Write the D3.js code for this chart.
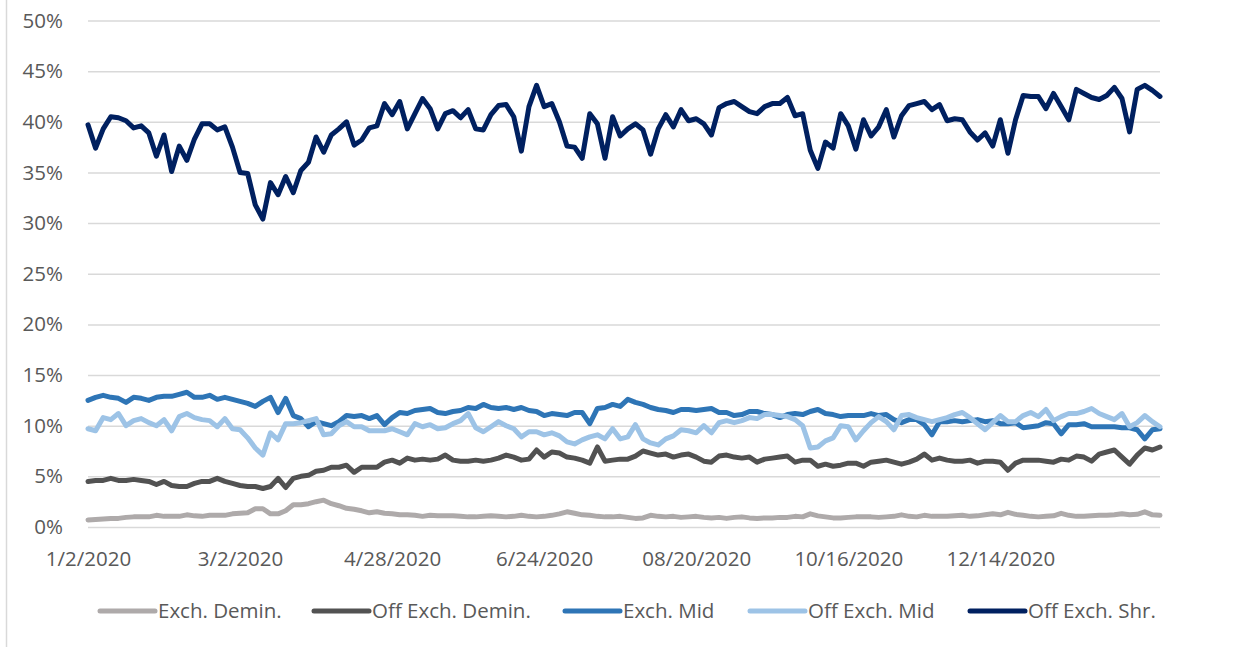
<!DOCTYPE html>
<html>
<head>
<meta charset="utf-8">
<script src="https://cdn.jsdelivr.net/npm/d3@7"></script>
<style>
  body { margin: 0; background: #fff; }
  svg { display: block; font-family: "Open Sans", sans-serif; }
</style>
</head>
<body>
<div id="chart"></div>
<script>
// x positions are trading-day indices; labels every 20 points
const tickIdx = [0, 20, 40, 60, 80, 100, 120];
const tickLabels = ["1/2/2020", "3/2/2020", "4/28/2020", "6/24/2020", "08/20/2020", "10/16/2020", "12/14/2020"];
const yTicks = [0, 5, 10, 15, 20, 25, 30, 35, 40, 45, 50];

const seriesNames = ["Exch. Demin.", "Off Exch. Demin.", "Exch. Mid", "Off Exch. Mid", "Off Exch. Shr."];
const seriesColors = ["#AEAAAA", "#525252", "#2E75B6", "#9DC3E6", "#002060"];

// values in percent
const exchDemin = [
  0.7, 0.75, 0.8, 0.85, 0.85, 0.95, 1.0, 1.0, 1.0, 1.15, 1.05, 1.05, 1.05, 1.2, 1.1, 1.05, 1.15, 1.15, 1.15, 1.3,
  1.35, 1.4, 1.8, 1.8, 1.3, 1.3, 1.6, 2.2, 2.2, 2.3, 2.5, 2.65, 2.3, 2.1, 1.85, 1.75, 1.6, 1.4, 1.5, 1.35,
  1.3, 1.2, 1.2, 1.15, 1.05, 1.15, 1.1, 1.1, 1.1, 1.05, 1.0, 1.0, 1.05, 1.1, 1.05, 1.0, 1.05, 1.15, 1.05, 1.0,
  1.05, 1.15, 1.3, 1.5, 1.35, 1.2, 1.15, 1.05, 1.0, 1.0, 1.05, 0.95, 0.85, 0.9, 1.15, 1.05, 1.0, 1.05, 0.95, 1.0,
  1.05, 0.95, 0.9, 0.95, 0.85, 0.95, 1.0, 0.9, 0.85, 0.9, 0.9, 0.95, 0.95, 1.05, 1.0, 1.3, 1.1, 1.0, 0.9, 0.9,
  0.95, 1.0, 1.0, 1.0, 0.95, 1.0, 1.05, 1.2, 1.05, 1.0, 1.15, 1.05, 1.05, 1.05, 1.1, 1.15, 1.05, 1.1, 1.2, 1.3,
  1.2, 1.45, 1.25, 1.15, 1.05, 1.0, 1.05, 1.1, 1.35, 1.15, 1.05, 1.05, 1.1, 1.15, 1.15, 1.2, 1.3, 1.2, 1.25, 1.5,
  1.2, 1.15
];
const offExchDemin = [
  4.5, 4.6, 4.6, 4.8, 4.6, 4.6, 4.7, 4.6, 4.5, 4.2, 4.5, 4.1, 4.0, 4.0, 4.3, 4.5, 4.5, 4.8, 4.5, 4.3,
  4.1, 4.0, 4.0, 3.8, 4.0, 4.8, 3.9, 4.8, 5.0, 5.1, 5.5, 5.6, 5.9, 5.9, 6.1, 5.4, 5.9, 5.9, 5.9, 6.4,
  6.6, 6.3, 6.8, 6.6, 6.7, 6.6, 6.7, 7.1, 6.6, 6.5, 6.5, 6.6, 6.5, 6.6, 6.8, 7.1, 6.9, 6.6, 6.7, 7.6,
  6.9, 7.4, 7.3, 6.9, 6.8, 6.6, 6.3, 7.9, 6.5, 6.6, 6.7, 6.7, 7.0, 7.5, 7.3, 7.1, 7.2, 6.9, 7.1, 7.2,
  6.9, 6.5, 6.4, 7.0, 7.1, 6.9, 6.8, 6.9, 6.4, 6.7, 6.8, 6.9, 7.0, 6.4, 6.6, 6.6, 6.0, 6.2, 6.0, 6.1,
  6.3, 6.3, 6.0, 6.4, 6.5, 6.6, 6.4, 6.2, 6.4, 6.7, 7.2, 6.6, 6.8, 6.6, 6.5, 6.5, 6.6, 6.3, 6.5, 6.5,
  6.4, 5.6, 6.3, 6.6, 6.6, 6.6, 6.5, 6.4, 6.7, 6.6, 7.0, 6.9, 6.5, 7.2, 7.4, 7.6, 6.9, 6.2, 7.1, 7.8,
  7.6, 7.9
];
const exchMid = [
  12.5, 12.8, 13.0, 12.8, 12.7, 12.3, 12.8, 12.7, 12.5, 12.8, 12.9, 12.9, 13.1, 13.3, 12.8, 12.8, 13.0, 12.6, 12.8, 12.6,
  12.4, 12.2, 11.9, 12.4, 12.8, 11.3, 12.7, 11.0, 10.7, 9.9, 10.4, 10.2, 10.0, 10.4, 11.0, 10.9, 11.0, 10.7, 11.0, 10.1,
  10.8, 11.3, 11.2, 11.5, 11.6, 11.7, 11.3, 11.2, 11.4, 11.5, 11.8, 11.7, 12.1, 11.8, 11.7, 11.8, 11.6, 11.8, 11.5, 11.4,
  11.0, 11.2, 11.1, 11.0, 11.3, 11.3, 10.2, 11.7, 11.8, 12.1, 11.9, 12.6, 12.3, 12.1, 11.8, 11.6, 11.5, 11.3, 11.6, 11.6,
  11.5, 11.6, 11.7, 11.3, 11.3, 11.0, 11.1, 11.4, 11.4, 11.2, 11.1, 10.8, 11.1, 11.2, 11.1, 11.4, 11.6, 11.2, 11.1, 10.9,
  11.0, 11.0, 11.0, 11.2, 11.0, 11.1, 10.6, 10.3, 10.6, 10.6, 10.1, 9.1, 10.4, 10.4, 10.5, 10.4, 10.5, 10.6, 10.4, 10.5,
  10.2, 10.2, 10.3, 9.8, 9.9, 10.0, 10.3, 10.2, 9.2, 10.1, 10.1, 10.2, 9.9, 9.9, 9.9, 9.9, 9.8, 9.8, 9.6, 8.7,
  9.6, 9.7
];
const offExchMid = [
  9.7, 9.5, 10.8, 10.6, 11.2, 10.0, 10.5, 10.7, 10.3, 10.0, 10.6, 9.5, 10.9, 11.2, 10.8, 10.6, 10.5, 9.9, 10.7, 9.7,
  9.6, 8.8, 7.8, 7.1, 9.3, 8.6, 10.2, 10.2, 10.3, 10.5, 10.7, 9.1, 9.2, 10.0, 10.4, 9.9, 9.9, 9.5, 9.5, 9.5,
  9.7, 9.4, 9.1, 10.2, 9.9, 10.1, 9.7, 9.8, 10.2, 10.5, 11.2, 9.8, 9.4, 9.9, 10.4, 10.0, 9.7, 8.9, 9.4, 9.4,
  9.1, 9.3, 9.0, 8.4, 8.2, 8.6, 8.9, 9.1, 8.7, 9.7, 8.7, 8.9, 10.1, 8.7, 8.3, 8.1, 8.7, 9.0, 9.6, 9.5,
  9.3, 10.0, 9.3, 10.3, 10.5, 10.3, 10.5, 10.8, 10.7, 11.1, 11.1, 11.0, 10.9, 10.6, 10.0, 7.8, 7.9, 8.5, 8.8, 10.0,
  9.9, 8.6, 9.5, 10.3, 10.9, 10.4, 9.6, 11.0, 11.1, 10.8, 10.6, 10.4, 10.6, 10.8, 11.1, 11.3, 10.8, 10.2, 9.6, 10.3,
  11.0, 10.4, 10.4, 11.0, 11.3, 10.9, 11.6, 10.5, 10.9, 11.2, 11.2, 11.4, 11.7, 11.2, 10.9, 10.6, 11.2, 9.9, 10.3, 11.0,
  10.4, 9.9
];
const offExchShr = [
  39.7, 37.4, 39.3, 40.5, 40.4, 40.1, 39.4, 39.6, 38.9, 36.6, 38.7, 35.1, 37.6, 36.2, 38.3, 39.8, 39.8, 39.2, 39.5, 37.5,
  35.0, 34.9, 31.8, 30.4, 34.0, 32.8, 34.6, 33.0, 35.2, 36.0, 38.5, 37.0, 38.7, 39.3, 40.0, 37.7, 38.2, 39.4, 39.6, 41.8,
  40.7, 42.0, 39.3, 40.8, 42.3, 41.3, 39.3, 40.8, 41.1, 40.4, 41.2, 39.3, 39.2, 40.7, 41.6, 41.7, 40.5, 37.1, 41.5, 43.6,
  41.5, 41.8, 40.0, 37.6, 37.5, 36.4, 40.8, 39.8, 36.4, 40.5, 38.6, 39.3, 39.8, 39.2, 36.8, 39.3, 40.7, 39.5, 41.2, 40.1,
  40.3, 39.8, 38.7, 41.4, 41.8, 42.0, 41.5, 41.0, 40.8, 41.5, 41.8, 41.8, 42.4, 40.6, 40.8, 37.2, 35.4, 38.0, 37.4, 40.8,
  39.6, 37.3, 40.2, 38.6, 39.5, 41.2, 38.5, 40.6, 41.6, 41.8, 42.0, 41.2, 41.7, 40.1, 40.3, 40.2, 39.0, 38.2, 38.9, 37.6,
  40.2, 36.9, 40.2, 42.6, 42.5, 42.5, 41.3, 42.8, 41.5, 40.2, 43.2, 42.8, 42.4, 42.2, 42.6, 43.4, 42.3, 39.0, 43.2, 43.6,
  43.1, 42.5
];

const allSeries = [exchDemin, offExchDemin, exchMid, offExchMid, offExchShr];

const width = 1243, height = 647;
const plotLeft = 88, plotRight = 1160, plotTop = 20.5, plotBottom = 527;

const svg = d3.select("#chart").append("svg")
    .attr("width", width)
    .attr("height", height);

// outer chart border (only left edge is in frame)
svg.append("line")
    .attr("x1", 6.5).attr("x2", 6.5)
    .attr("y1", 0).attr("y2", height)
    .attr("stroke", "#D9D9D9")
    .attr("stroke-width", 1.5);

const x = d3.scaleLinear().domain([0, offExchShr.length - 1]).range([plotLeft, plotRight]);
const y = d3.scaleLinear().domain([0, 50]).range([plotBottom, plotTop]);

const yAxis = svg.append("g")
    .attr("transform", `translate(${plotLeft},0)`)
    .call(d3.axisLeft(y)
        .tickValues(yTicks)
        .tickFormat(d => d + "%")
        .tickSize(-(plotRight - plotLeft))
        .tickPadding(25));
yAxis.select(".domain").remove();
yAxis.selectAll(".tick line").attr("stroke", "#D9D9D9").attr("stroke-width", 1.5);
yAxis.selectAll(".tick text")
    .attr("fill", "#595959")
    .style("font-size", "20.5px")
    .style("font-family", "'Open Sans', sans-serif");

const xAxis = svg.append("g")
    .attr("transform", `translate(0,${plotBottom})`)
    .call(d3.axisBottom(x)
        .tickValues(tickIdx)
        .tickFormat((d, i) => tickLabels[i])
        .tickSize(0)
        .tickPadding(24));
xAxis.select(".domain").remove();
xAxis.selectAll(".tick text")
    .attr("fill", "#595959")
    .style("font-size", "20.5px")
    .style("font-family", "'Open Sans', sans-serif");

const line = d3.line()
    .x((d, i) => x(i))
    .y(d => y(d));

svg.append("g").selectAll("path")
    .data(allSeries)
    .join("path")
    .attr("d", line)
    .attr("fill", "none")
    .attr("stroke", (d, i) => seriesColors[i])
    .attr("stroke-width", 5)
    .attr("stroke-linejoin", "round")
    .attr("stroke-linecap", "round");

// legend
const legendX = [100, 314, 565, 750, 970];
const legendY = 611;
const legend = svg.append("g").selectAll("g")
    .data(seriesNames)
    .join("g")
    .attr("transform", (d, i) => `translate(${legendX[i]},${legendY})`);
legend.append("line")
    .attr("x1", 0).attr("x2", 55)
    .attr("stroke", (d, i) => seriesColors[i])
    .attr("stroke-width", 5)
    .attr("stroke-linecap", "round");
legend.append("text")
    .attr("x", 58)
    .attr("dy", "0.35em")
    .attr("fill", "#595959")
    .style("font-size", "20.5px")
    .text(d => d);
</script>
</body>
</html>
